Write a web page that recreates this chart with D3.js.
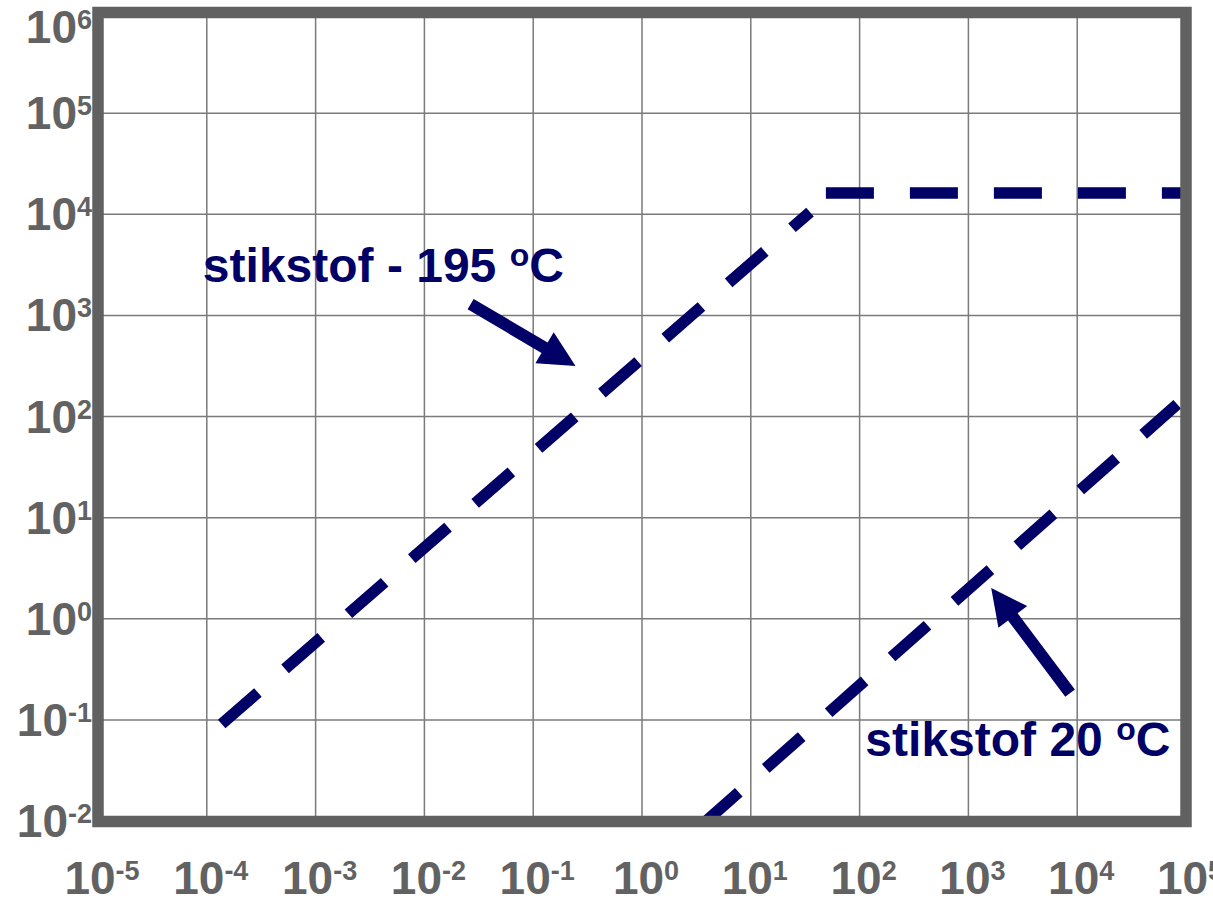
<!DOCTYPE html>
<html>
<head>
<meta charset="utf-8">
<script src="https://cdn.jsdelivr.net/npm/d3@7"></script>
<style>
  body { margin: 0; background: #fff; }
  svg text { font-family: "Liberation Sans", Arial, sans-serif; font-weight: bold; }
</style>
</head>
<body>
<div id="canvas"></div>
<script>
(function(d3){

  // tick exponents (labels are 10^n)
  var xTickExp = [-5, -4, -3, -2, -1, 0, 1, 2, 3, 4, 5],
      yTickExp = [-2, -1, 0, 1, 2, 3, 4, 5, 6];

  // stikstof -195 C : rising part, then flat part
  var coldRiseX = [1.37e-4, 35],
      coldRiseY = [0.091, 1.05e4],
      coldFlatX = [49, 1e5],
      coldFlatY = [1.62e4, 1.62e4];

  // stikstof 20 C : rising
  var warmX = [2.4, 8.3e4],
      warmY = [0.0063, 132];

  // annotations: label text, label anchor, arrow tail, arrow tip (data coords)
  var noteText = ['stikstof - 195 ', 'stikstof 20 '],
      noteX = [9.2e-5, 113],
      noteY = [2140, 0.0437],
      arrowFromX = [0.0266, 8600],
      arrowFromY = [1294, 0.184],
      arrowToX = [0.245, 1620],
      arrowToY = [315, 2.01];

  var W = 1213, H = 900,
      navy = '#000066',
      gray = '#626262';

  var x = d3.scaleLog().domain([1e-5, 1e5]).range([98, 1186]),
      y = d3.scaleLog().domain([1e-2, 1e6]).range([821, 12]);

  var svg = d3.select('#canvas').append('svg')
      .attr('width', W)
      .attr('height', H);

  svg.append('defs').append('clipPath').attr('id', 'plot')
    .append('rect')
      .attr('x', x.range()[0]).attr('y', y.range()[1])
      .attr('width', x.range()[1] - x.range()[0])
      .attr('height', y.range()[0] - y.range()[1]);

  /**
   * Grid.
   */
  svg.append('g').selectAll('line')
      .data(xTickExp)
    .enter().append('line')
      .attr('x1', function(d){ return x(Math.pow(10, d)); })
      .attr('x2', function(d){ return x(Math.pow(10, d)); })
      .attr('y1', y.range()[0]).attr('y2', y.range()[1])
      .attr('stroke', '#7a7a7a').attr('stroke-width', 1.5);

  svg.append('g').selectAll('line')
      .data(yTickExp)
    .enter().append('line')
      .attr('y1', function(d){ return y(Math.pow(10, d)); })
      .attr('y2', function(d){ return y(Math.pow(10, d)); })
      .attr('x1', x.range()[0]).attr('x2', x.range()[1])
      .attr('stroke', '#7a7a7a').attr('stroke-width', 1.5);

  /**
   * Dashed curves.
   */
  var line = d3.line()
      .x(function(d){ return x(d[0]); })
      .y(function(d){ return y(d[1]); });

  var curves = svg.append('g').attr('clip-path', 'url(#plot)');

  [[coldRiseX, coldRiseY, 0], [coldFlatX, coldFlatY, 0], [warmX, warmY, 58]].forEach(function(s){
    curves.append('path')
        .attr('d', line(d3.zip(s[0], s[1])))
        .attr('fill', 'none')
        .attr('stroke', navy)
        .attr('stroke-width', 11.5)
        .attr('stroke-dasharray', '48,36')
        .attr('stroke-dashoffset', s[2]);
  });

  /**
   * Frame.
   */
  svg.append('rect')
      .attr('x', x.range()[0]).attr('y', y.range()[1] + 0.5)
      .attr('width', x.range()[1] - x.range()[0])
      .attr('height', y.range()[0] - y.range()[1])
      .attr('fill', 'none')
      .attr('stroke', '#616161')
      .attr('stroke-width', 11.5);

  /**
   * Tick labels.
   */
  function sup(sel, exp, size) {
    sel.append('tspan').text('10');
    sel.append('tspan')
        .attr('dy', -14)
        .attr('font-size', size)
        .text(exp);
  }

  svg.append('g').selectAll('text')
      .data(xTickExp)
    .enter().append('text')
      .attr('x', function(d){ return x(Math.pow(10, d)) + 4; })
      .attr('y', 894)
      .attr('text-anchor', 'middle')
      .attr('font-size', 46)
      .attr('fill', gray)
      .each(function(d){ sup(d3.select(this), d, 27); });

  svg.append('g').selectAll('text')
      .data(yTickExp)
    .enter().append('text')
      .attr('x', 92)
      .attr('y', function(d){ return Math.max(y(Math.pow(10, d)) + 16, 43); })
      .attr('text-anchor', 'end')
      .attr('font-size', 46)
      .attr('fill', gray)
      .each(function(d){ sup(d3.select(this), d, 27); });

  /**
   * Annotations.
   */
  noteText.forEach(function(t, i){
    var txt = svg.append('text')
        .attr('x', x(noteX[i]))
        .attr('y', y(noteY[i]))
        .attr('font-size', 48)
        .attr('fill', navy);
    txt.append('tspan').text(t);
    txt.append('tspan').attr('dy', -16).attr('font-size', 32).text('o');
    txt.append('tspan').attr('dy', 16).text('C');

    var x0 = x(arrowFromX[i]), y0 = y(arrowFromY[i]),
        x1 = x(arrowToX[i]), y1 = y(arrowToY[i]),
        len = Math.hypot(x1 - x0, y1 - y0),
        ang = Math.atan2(y1 - y0, x1 - x0) * 180 / Math.PI,
        sw = 6, hw = 18, hl = 36;

    svg.append('path')
        .attr('transform', 'translate(' + x0 + ',' + y0 + ') rotate(' + ang + ')')
        .attr('d', 'M0,' + (-sw) + 'L' + (len - hl) + ',' + (-sw) + 'L' + (len - hl) + ',' + (-hw) +
                   'L' + len + ',0L' + (len - hl) + ',' + hw + 'L' + (len - hl) + ',' + sw + 'L0,' + sw + 'Z')
        .attr('fill', navy);
  });

})(d3);
</script>
</body>
</html>
